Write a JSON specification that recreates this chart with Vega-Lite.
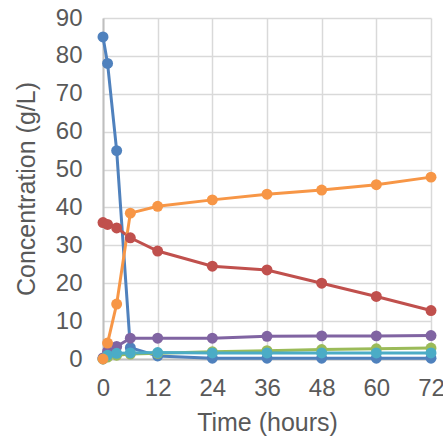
{
  "$schema": "https://vega.github.io/schema/vega-lite/v6.json",
  "width": 328,
  "height": 341,
  "autosize": {"type": "none"},
  "padding": {"left": 103, "top": 18, "right": 12, "bottom": 82},
  "background": "white",
  "config": {
    "view": {"stroke": null},
    "font": "Liberation Sans",
    "axis": {
      "labelFont": "Liberation Sans",
      "titleFont": "Liberation Sans",
      "labelFontSize": 24,
      "titleFontSize": 25,
      "labelColor": "#595959",
      "titleColor": "#595959",
      "titleFontWeight": "normal",
      "gridColor": "#D9D9D9",
      "gridWidth": 1.5,
      "domainColor": "#BFBFBF",
      "domainWidth": 2,
      "ticks": false
    }
  },
  "data": {
    "values": [
      {"t": 0, "s": "S1", "v": 85},
      {"t": 1, "s": "S1", "v": 78},
      {"t": 3, "s": "S1", "v": 55},
      {"t": 6, "s": "S1", "v": 3},
      {"t": 12, "s": "S1", "v": 0.8},
      {"t": 24, "s": "S1", "v": 0.2},
      {"t": 36, "s": "S1", "v": 0.2},
      {"t": 48, "s": "S1", "v": 0.2},
      {"t": 60, "s": "S1", "v": 0.2},
      {"t": 72, "s": "S1", "v": 0.2},
      {"t": 0, "s": "S2", "v": 36},
      {"t": 1, "s": "S2", "v": 35.5},
      {"t": 3, "s": "S2", "v": 34.6},
      {"t": 6, "s": "S2", "v": 32},
      {"t": 12, "s": "S2", "v": 28.5},
      {"t": 24, "s": "S2", "v": 24.5},
      {"t": 36, "s": "S2", "v": 23.5},
      {"t": 48, "s": "S2", "v": 20},
      {"t": 60, "s": "S2", "v": 16.5},
      {"t": 72, "s": "S2", "v": 12.8},
      {"t": 0, "s": "S3", "v": 0},
      {"t": 1, "s": "S3", "v": 0.5},
      {"t": 3, "s": "S3", "v": 1},
      {"t": 6, "s": "S3", "v": 1.3},
      {"t": 12, "s": "S3", "v": 1.5},
      {"t": 24, "s": "S3", "v": 1.9},
      {"t": 36, "s": "S3", "v": 2.2},
      {"t": 48, "s": "S3", "v": 2.5},
      {"t": 60, "s": "S3", "v": 2.7},
      {"t": 72, "s": "S3", "v": 2.9},
      {"t": 0, "s": "S4", "v": 0.3},
      {"t": 1, "s": "S4", "v": 2},
      {"t": 3, "s": "S4", "v": 3.3},
      {"t": 6, "s": "S4", "v": 5.5},
      {"t": 12, "s": "S4", "v": 5.5},
      {"t": 24, "s": "S4", "v": 5.5},
      {"t": 36, "s": "S4", "v": 6},
      {"t": 48, "s": "S4", "v": 6.1},
      {"t": 60, "s": "S4", "v": 6.1},
      {"t": 72, "s": "S4", "v": 6.2},
      {"t": 0, "s": "S5", "v": 0},
      {"t": 1, "s": "S5", "v": 1},
      {"t": 3, "s": "S5", "v": 1.5},
      {"t": 6, "s": "S5", "v": 1.6},
      {"t": 12, "s": "S5", "v": 1.7},
      {"t": 24, "s": "S5", "v": 1.6},
      {"t": 36, "s": "S5", "v": 1.6},
      {"t": 48, "s": "S5", "v": 1.6},
      {"t": 60, "s": "S5", "v": 1.6},
      {"t": 72, "s": "S5", "v": 1.6},
      {"t": 0, "s": "S6", "v": 0},
      {"t": 1, "s": "S6", "v": 4.2},
      {"t": 3, "s": "S6", "v": 14.5},
      {"t": 6, "s": "S6", "v": 38.5},
      {"t": 12, "s": "S6", "v": 40.3},
      {"t": 24, "s": "S6", "v": 42},
      {"t": 36, "s": "S6", "v": 43.5},
      {"t": 48, "s": "S6", "v": 44.6},
      {"t": 60, "s": "S6", "v": 46},
      {"t": 72, "s": "S6", "v": 48}
    ]
  },
  "mark": {"type": "line", "strokeWidth": 3, "point": {"filled": true, "size": 120, "opacity": 1}},
  "encoding": {
    "x": {
      "field": "t", "type": "quantitative",
      "scale": {"domain": [0, 72], "nice": false},
      "axis": {"values": [0, 12, 24, 36, 48, 60, 72], "title": "Time (hours)", "labelPadding": 17, "titlePadding": 10, "labelFlush": false}
    },
    "y": {
      "field": "v", "type": "quantitative",
      "scale": {"domain": [0, 90], "nice": false},
      "axis": {"values": [0, 10, 20, 30, 40, 50, 60, 70, 80, 90], "title": "Concentration (g/L)", "labelPadding": 21, "titlePadding": 16}
    },
    "color": {
      "field": "s", "type": "nominal",
      "scale": {"domain": ["S1", "S2", "S3", "S4", "S5", "S6"], "range": ["#4F81BD", "#C0504D", "#9BBB59", "#8064A2", "#4BACC6", "#F79646"]},
      "legend": null
    }
  }
}
